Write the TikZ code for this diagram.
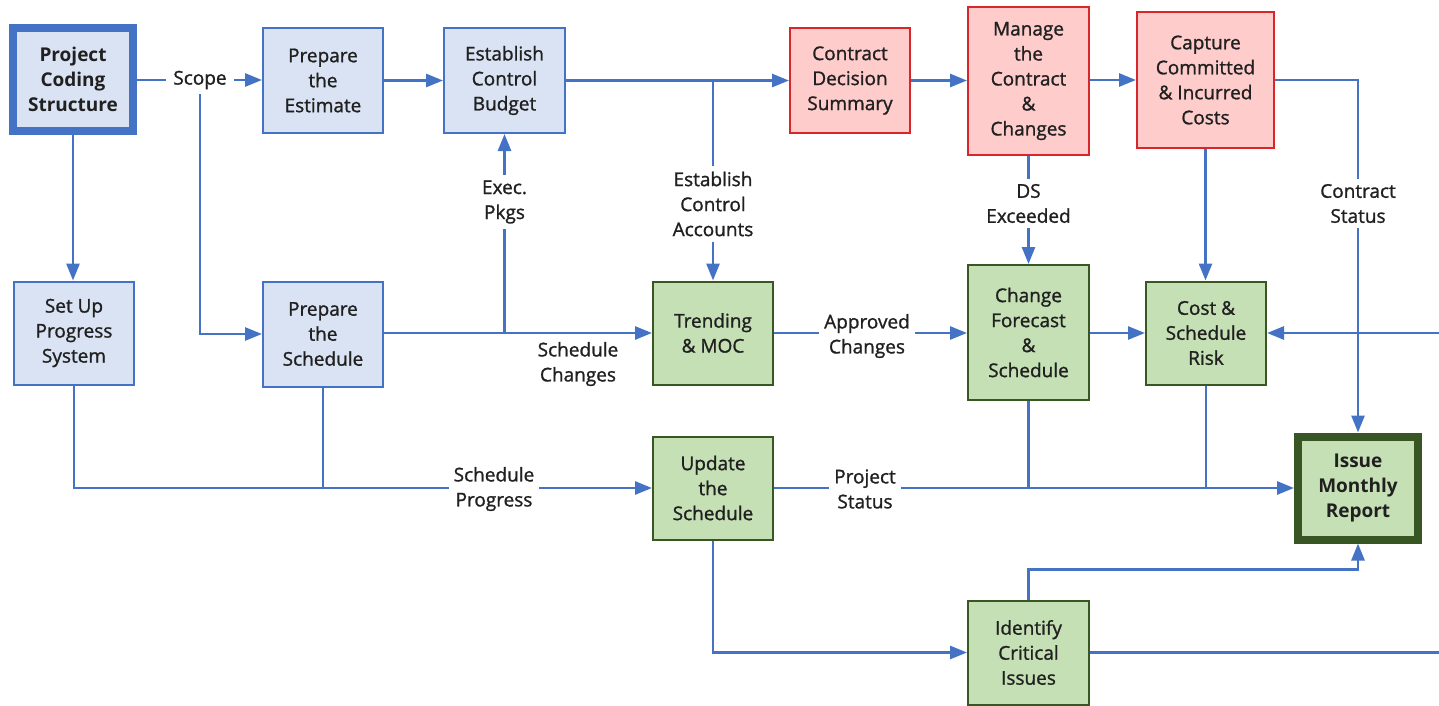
\documentclass[tikz,border=0pt]{standalone}
\usepackage{fontspec}
\setmainfont{Open Sans}
\newfontfamily\lblfont{Open Sans}[FakeBold=1.2]
\usetikzlibrary{arrows.meta,calc}
\definecolor{lnblue}{HTML}{4472C4}
\definecolor{bfill}{HTML}{DAE3F3}
\definecolor{rfill}{HTML}{FFCCCC}
\definecolor{rborder}{HTML}{D9262B}
\definecolor{gfill}{HTML}{C5E0B4}
\definecolor{gborder}{HTML}{385723}
\definecolor{gthick}{HTML}{375623}
\definecolor{txt}{HTML}{202020}
\begin{document}
\begin{tikzpicture}[x=1pt,y=-1pt,
  font=\lblfont\fontsize{19}{25}\selectfont,
  box/.style={draw, line width=2pt, minimum width=120pt, minimum height=105pt, align=center, inner sep=0pt, text=txt},
  bluebox/.style={box, draw=lnblue, fill=bfill},
  redbox/.style={box, draw=rborder, fill=rfill},
  greenbox/.style={box, draw=gborder, fill=gfill},
  lbl/.style={align=center, inner sep=5pt, text=txt},
  conn/.style={draw=lnblue, line width=2.7pt},
  arr/.style={conn, -{Triangle[length=17pt,width=13pt]}}
]
\useasboundingbox (0,0) rectangle (1439,706);
\fill[white] (0,0) rectangle (1439,706);

% row 1
\node[bluebox, line width=8pt, minimum width=120pt, minimum height=103pt, font=\bfseries\fontsize{19}{25}\selectfont] (pcs) at (73,79.5) {Project\\Coding\\Structure};
\node[bluebox, minimum height=105pt] (pe) at (323,80.5) {Prepare\\the\\Estimate};
\node[bluebox, minimum width=121pt, minimum height=105pt] (ecb) at (504.5,80.5) {Establish\\Control\\Budget};
\node[redbox, minimum height=104pt] (cds) at (850,80.5) {Contract\\Decision\\Summary};
\node[redbox, minimum width=121pt, minimum height=148pt] (mcc) at (1028.5,81) {Manage\\the\\Contract\\\&\\Changes};
\node[redbox, minimum width=137pt, minimum height=135pt] (ccic) at (1205.5,80) {Capture\\Committed\\\& Incurred\\Costs};

% row 2
\node[bluebox, minimum height=103pt] (sups) at (74,333) {Set Up\\Progress\\System};
\node[bluebox, minimum height=105pt] (ps) at (323,334) {Prepare\\the\\Schedule};
\node[greenbox, minimum height=103pt] (tm) at (713,333) {Trending\\\& MOC};
\node[greenbox, minimum width=121pt, minimum height=135pt] (cfs) at (1028.5,332.5) {Change\\Forecast\\\&\\Schedule};
\node[greenbox, minimum height=103pt] (csr) at (1206,333) {Cost \&\\Schedule\\Risk};

% row 3
\node[greenbox, minimum height=103pt] (ut) at (713,488) {Update\\the\\Schedule};
\node[greenbox, draw=gthick, line width=8pt, minimum height=103pt, font=\bfseries\fontsize{19}{25}\selectfont] (imr) at (1358,488) {Issue\\Monthly\\Report};
\node[greenbox, minimum width=121pt, minimum height=104pt] (ici) at (1028.5,652.5) {Identify\\Critical\\Issues};

% labels
\node[lbl, inner xsep=7pt] (scope) at (200,80) {Scope};
\node[lbl] (ep) at (504.5,202) {Exec.\\Pkgs};
\node[lbl] (eca) at (713,204) {Establish\\Control\\Accounts};
\node[lbl] (dse) at (1028.5,203.5) {DS\\Exceeded};
\node[lbl] (cs) at (1358,203.5) {Contract\\Status};
\node[lbl] (sc) at (578,364) {Schedule\\Changes};
\node[lbl] (ac) at (867,336) {Approved\\Changes};
\node[lbl] (sp) at (494,489) {Schedule\\Progress};
\node[lbl] (pst) at (865,489) {Project\\Status};

\coordinate (re1) at (1439,333);
\coordinate (re2) at (1439,652.5);

% connectors row 1
\draw[conn] (pcs.east |- scope.west) -- (scope.west);
\draw[arr] (scope.east) -- (pe.west |- scope.east);
\draw[arr] (pe.east) -- (ecb.west);
\draw[arr] (ecb.east) -- (cds.west);
\draw[arr] (cds.east) -- (mcc.west |- cds.east);
\draw[arr] (mcc.east |- ccic.west) -- (ccic.west);
\draw[conn] (ccic.east) -| (cs.north);
\draw[arr] (cs.south) -- (imr.north);

% verticals
\draw[arr] (pcs.south) -- (pcs.south |- sups.north);
\draw[arr] (scope.south) |- (ps.west);
\draw[conn] (eca.north |- ecb.east) -- (eca.north);
\draw[arr] (eca.south) -- (tm.north);
\draw[conn] (mcc.south) -- (dse.north);
\draw[arr] (dse.south) -- (cfs.north);
\draw[arr] (ccic.south) -- (ccic.south |- csr.north);

% row 2
\draw[arr] (ps.east |- tm.west) -- (tm.west);
\draw[conn] (ep.south |- tm.west) -- (ep.south);
\draw[arr] (ep.north) -- (ecb.south);
\draw[conn] (tm.east) -- (tm.east -| ac.west);
\draw[arr] (ac.east |- tm.east) -- (tm.east -| cfs.west);
\draw[arr] (cfs.east |- csr.west) -- (csr.west);
\draw[arr] (re1) -- (csr.east);

% row 3
\draw[conn] (sups.south) |- (sp.west |- ut.west);
\draw[conn] (ps.south) -- (ps.south |- ut.west);
\draw[arr] (sp.east |- ut.west) -- (ut.west);
\draw[conn] (ut.east) -- (ut.east -| pst.west);
\draw[arr] (pst.east |- imr.west) -- (imr.west);
\draw[conn] (cfs.south) -- (cfs.south |- imr.west);
\draw[conn] (csr.south) -- (csr.south |- imr.west);
\draw[arr] (ut.south) |- (ici.west);
\draw[arr] (ici.north) -- ++(0,-30) -| (imr.south);
\draw[conn] (ici.east) -- (re2);
\end{tikzpicture}
\end{document}
